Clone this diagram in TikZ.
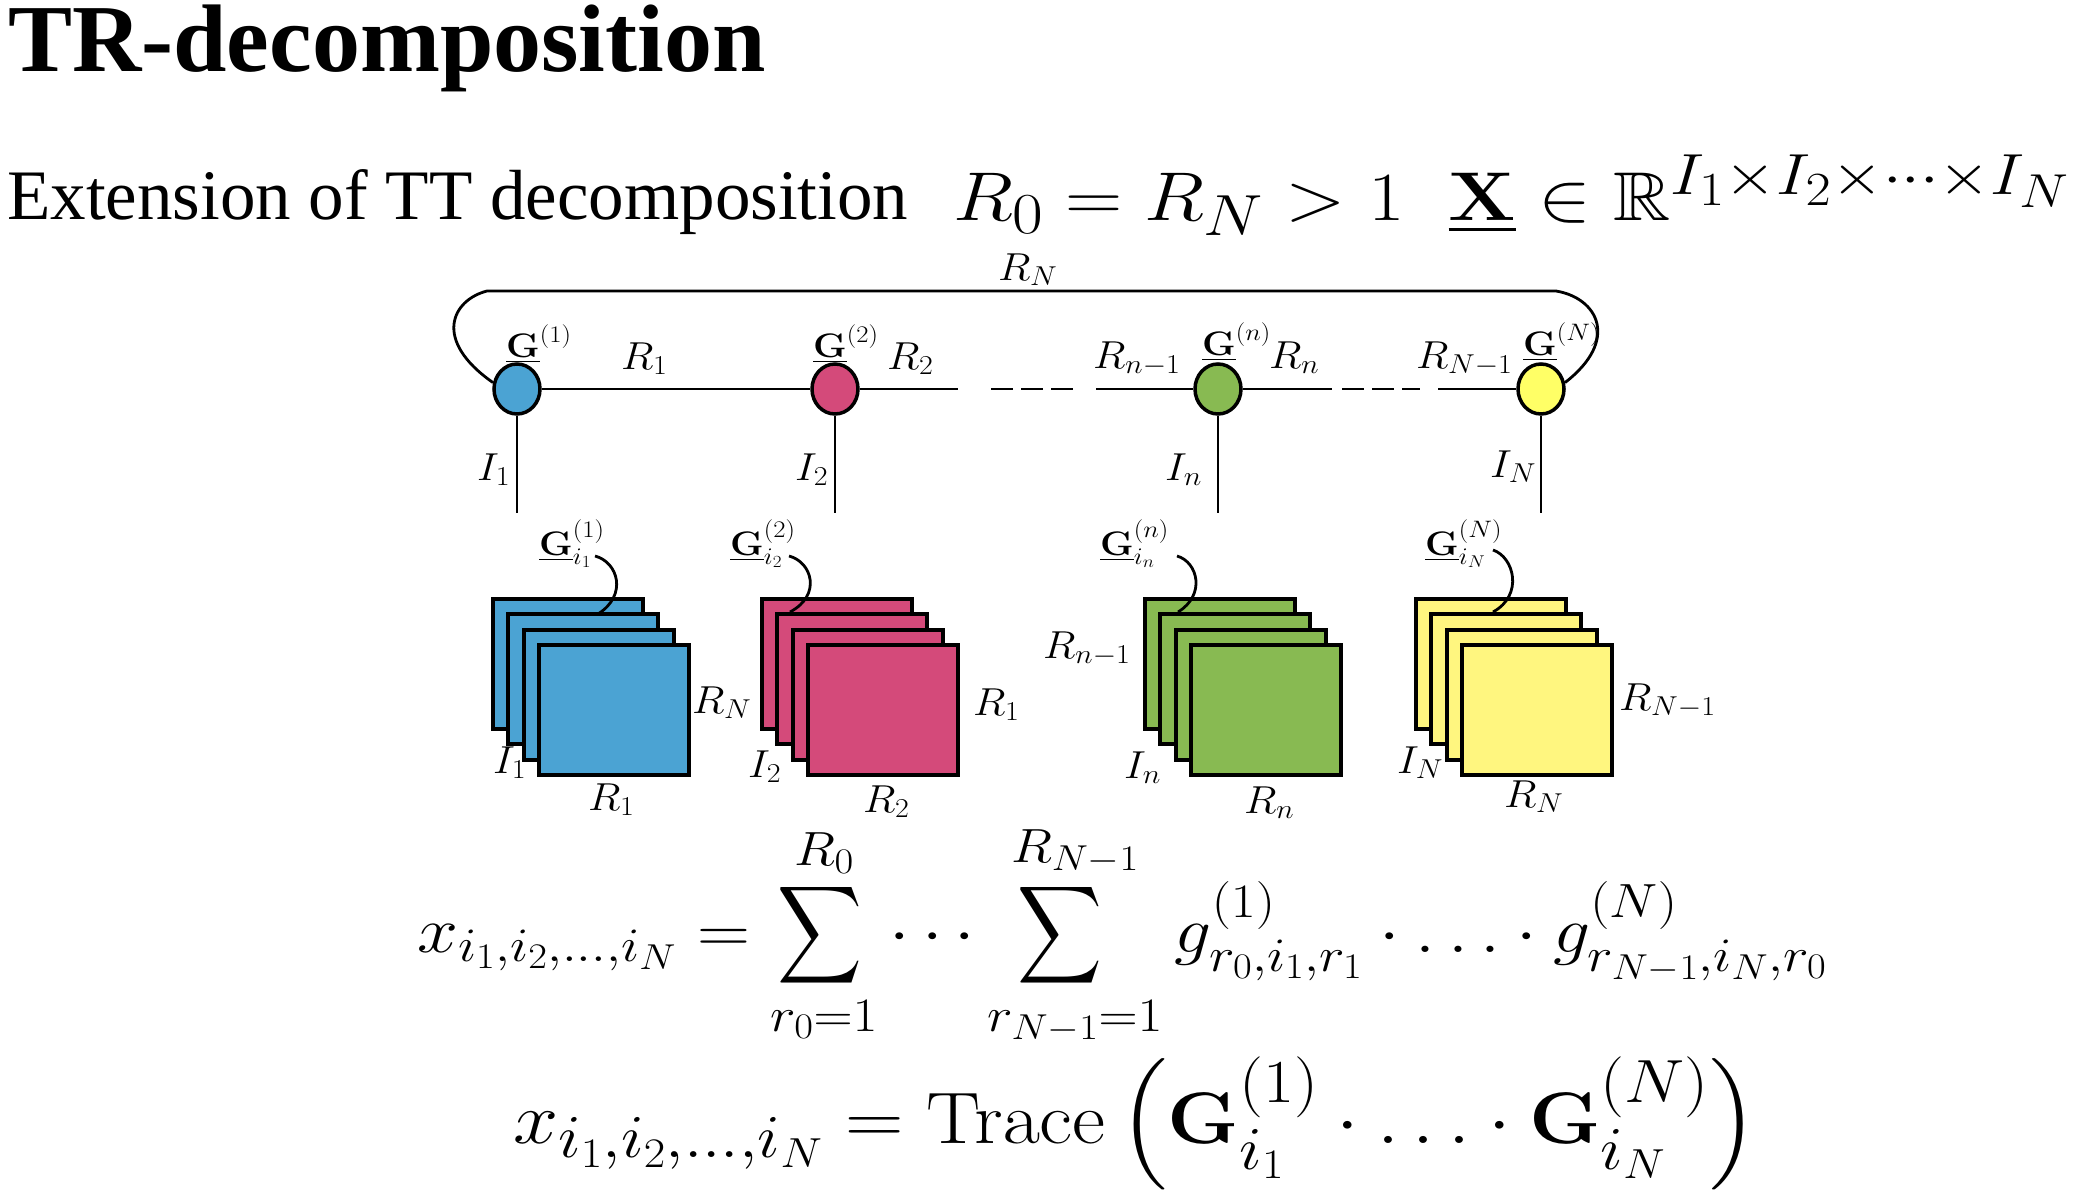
\documentclass[tikz,border=0pt]{standalone}
\usepackage{fix-cm}
\usepackage{amsmath,amssymb}
\usepackage[no-math]{fontspec}
\newfontfamily\timesfont{Liberation Serif}
\usetikzlibrary{shapes.geometric}
\DeclareMathSizes{69}{69}{58}{47.6}
\DeclareMathSizes{65}{65}{48}{36}
\DeclareMathSizes{73}{73}{61}{42}
\newcommand\tallsum{\mathop{\scalebox{0.8}[1.05]{$\displaystyle\sum$}}\limits}
\definecolor{cblue}{HTML}{4BA3D3}
\definecolor{cpink}{HTML}{D44A7A}
\definecolor{cgreen}{HTML}{88BA52}
\definecolor{cyelN}{HTML}{FFFF66}
\definecolor{cyelC}{HTML}{FFF67F}
\tikzset{
  core/.style={ellipse, draw, line width=3.5pt, minimum width=46pt, minimum height=50pt, inner sep=0pt},
  wire/.style={line width=2.8pt},
  dashwire/.style={wire, dash pattern=on 22pt off 8pt},
  card/.style={rectangle, draw, line width=4pt, minimum width=150pt, minimum height=130pt, anchor=north west, inner sep=0pt},
  lbl/.style={inner sep=0pt, anchor=base west, xscale=1.1, font=\fontsize{39}{44}\selectfont},
  glbl/.style={inner sep=0pt, anchor=base west, xscale=1.12, font=\fontsize{34}{40}\selectfont},
  txt/.style={inner sep=0pt, anchor=base west}
}
\begin{document}
\begin{tikzpicture}[x=1pt,y=-1pt]
\useasboundingbox (0,0) rectangle (2088,1204);
% headings
\node[txt] (title) at (8,72) {\timesfont\bfseries\fontsize{96}{110}\selectfont TR-decomposition};
\node[txt] (ext) at (7,219) {\timesfont\fontsize{71}{80}\selectfont Extension of TT decomposition};
\node[txt, xscale=1.15] (cond) at (953,220) {\fontsize{69}{80}\selectfont $R_0 = R_N > 1\mkern10mu \underline{\mathbf{X}} \in \mathbb{R}^{I_1\times I_2\times\cdots\times I_N}$};
% cores
\node[core, fill=cblue] (n1) at (517,389) {};
\node[core, fill=cpink] (n2) at (835,389) {};
\node[core, fill=cgreen] (n3) at (1218,389) {};
\node[core, fill=cyelN] (n4) at (1541,389) {};
% ring
\coordinate (tl) at (487,291);
\coordinate (tr) at (1556,291);
\draw[wire] (n1.165) .. controls (432,340) and (452,300) .. (tl) -- (tr) .. controls (1598,298) and (1620,340) .. (n4.15);
\node[lbl] (rN) at (998,280) {$R_N$};
% horizontal bonds
\coordinate (h1) at (958,389); \coordinate (h2) at (991,389);
\coordinate (h3) at (1073,389); \coordinate (h4) at (1096,389);
\coordinate (h5) at (1332,389); \coordinate (h6) at (1342,389);
\coordinate (h7) at (1420,389); \coordinate (h8) at (1438,389);
\draw[wire] (n1) -- (n2);
\draw[wire] (n2) -- (h1);
\draw[dashwire] (h2) -- (h3);
\draw[wire] (h4) -- (n3);
\draw[wire] (n3) -- (h5);
\draw[dashwire] (h6) -- (h7);
\draw[wire] (h8) -- (n4);
% legs
\coordinate (d1) at (517,513); \coordinate (d2) at (835,513);
\coordinate (d3) at (1218,513); \coordinate (d4) at (1541,513);
\draw[wire] (n1.south) -- (d1);
\draw[wire] (n2.south) -- (d2);
\draw[wire] (n3.south) -- (d3);
\draw[wire] (n4.south) -- (d4);
% top labels
\node[glbl] (g1) at (506,357) {$\underline{\mathbf{G}}^{(1)}$};
\node[glbl] (g2) at (813,357) {$\underline{\mathbf{G}}^{(2)}$};
\node[glbl] (g3) at (1202,355) {$\underline{\mathbf{G}}^{(n)}$};
\node[glbl] (g4) at (1523,355) {$\underline{\mathbf{G}}^{(N)}$};
\node[lbl] (r1) at (621,369) {$R_1$};
\node[lbl] (r2) at (887,369) {$R_2$};
\node[lbl] (rn1) at (1093,368) {$R_{n-1}$};
\node[lbl] (rn) at (1269,368) {$R_n$};
\node[lbl] (rNm) at (1416,368) {$R_{N-1}$};
\node[lbl] (i1) at (477,480) {$I_1$};
\node[lbl] (i2) at (795,480) {$I_2$};
\node[lbl] (in) at (1165,480) {$I_n$};
\node[lbl] (iN) at (1490,477) {$I_N$};
% card stacks
\foreach \k in {0,1,2,3} {
  \node[card, fill=cblue] (cb\k) at ({491+15.3*\k},{597+15.3*\k}) {};
}
\foreach \k in {0,1,2,3} {
  \node[card, fill=cpink] (cp\k) at ({760+15.3*\k},{597+15.3*\k}) {};
}
\foreach \k in {0,1,2,3} {
  \node[card, fill=cgreen] (cg\k) at ({1143+15.3*\k},{597+15.3*\k}) {};
}
\foreach \k in {0,1,2,3} {
  \node[card, fill=cyelC] (cy\k) at ({1414+15.3*\k},{597+15.3*\k}) {};
}
% slice labels and pointers
\node[glbl] (gs1) at (539,555) {$\underline{\mathbf{G}}_{i_1}^{(1)}$};
\node[glbl] (gs2) at (730,555) {$\underline{\mathbf{G}}_{i_2}^{(2)}$};
\node[glbl] (gs3) at (1100,555) {$\underline{\mathbf{G}}_{i_n}^{(n)}$};
\node[glbl] (gs4) at (1425,555) {$\underline{\mathbf{G}}_{i_N}^{(N)}$};
\coordinate (sb) at (595,556); \coordinate (eb) at (598,614);
\coordinate (sp) at (789,556); \coordinate (ep) at (790,612);
\coordinate (sg) at (1177,556); \coordinate (eg) at (1178,612);
\coordinate (sy) at (1493,550); \coordinate (ey) at (1493,612);
\draw[wire] (sb) .. controls (618,562) and (628,595) .. (eb);
\draw[wire] (sp) .. controls (812,562) and (822,595) .. (ep);
\draw[wire] (sg) .. controls (1198,562) and (1206,595) .. (eg);
\draw[wire] (sy) .. controls (1514,557) and (1524,595) .. (ey);
% card side labels
\node[lbl] (cbR) at (692,713) {$R_N$};
\node[lbl] (cbI) at (493,773) {$I_1$};
\node[lbl] (cbB) at (588,810) {$R_1$};
\node[lbl] (cpR) at (973,715) {$R_1$};
\node[lbl] (cpI) at (748,777) {$I_2$};
\node[lbl] (cpB) at (863,812) {$R_2$};
\node[lbl] (cgL) at (1043,658) {$R_{n-1}$};
\node[lbl] (cgI) at (1124,778) {$I_n$};
\node[lbl] (cgB) at (1244,813) {$R_n$};
\node[lbl] (cyR) at (1619,710) {$R_{N-1}$};
\node[lbl] (cyI) at (1397,773) {$I_N$};
\node[lbl] (cyB) at (1504,807) {$R_N$};
% formulas
\node[txt, xscale=1.13] (f1) at (417,952) {\fontsize{65}{75}\selectfont $\displaystyle x_{i_1,i_2,\dots,i_N} = \tallsum_{r_0=1}^{R_0}\cdots\tallsum_{r_{N-1}=1}^{R_{N-1}} g^{(1)}_{r_0,i_1,r_1}\cdot\ldots\cdot g^{(N)}_{r_{N-1},i_N,r_0}$};
\node[txt, xscale=1.11] (f2) at (513,1143) {\fontsize{73}{80}\selectfont $\displaystyle x_{i_1,i_2,\dots,i_N} = \mathrm{Trace}\left(\mathbf{G}_{i_1}^{(1)}\cdot\ldots\cdot\mathbf{G}_{i_N}^{(N)}\right)$};
\end{tikzpicture}
\end{document}
